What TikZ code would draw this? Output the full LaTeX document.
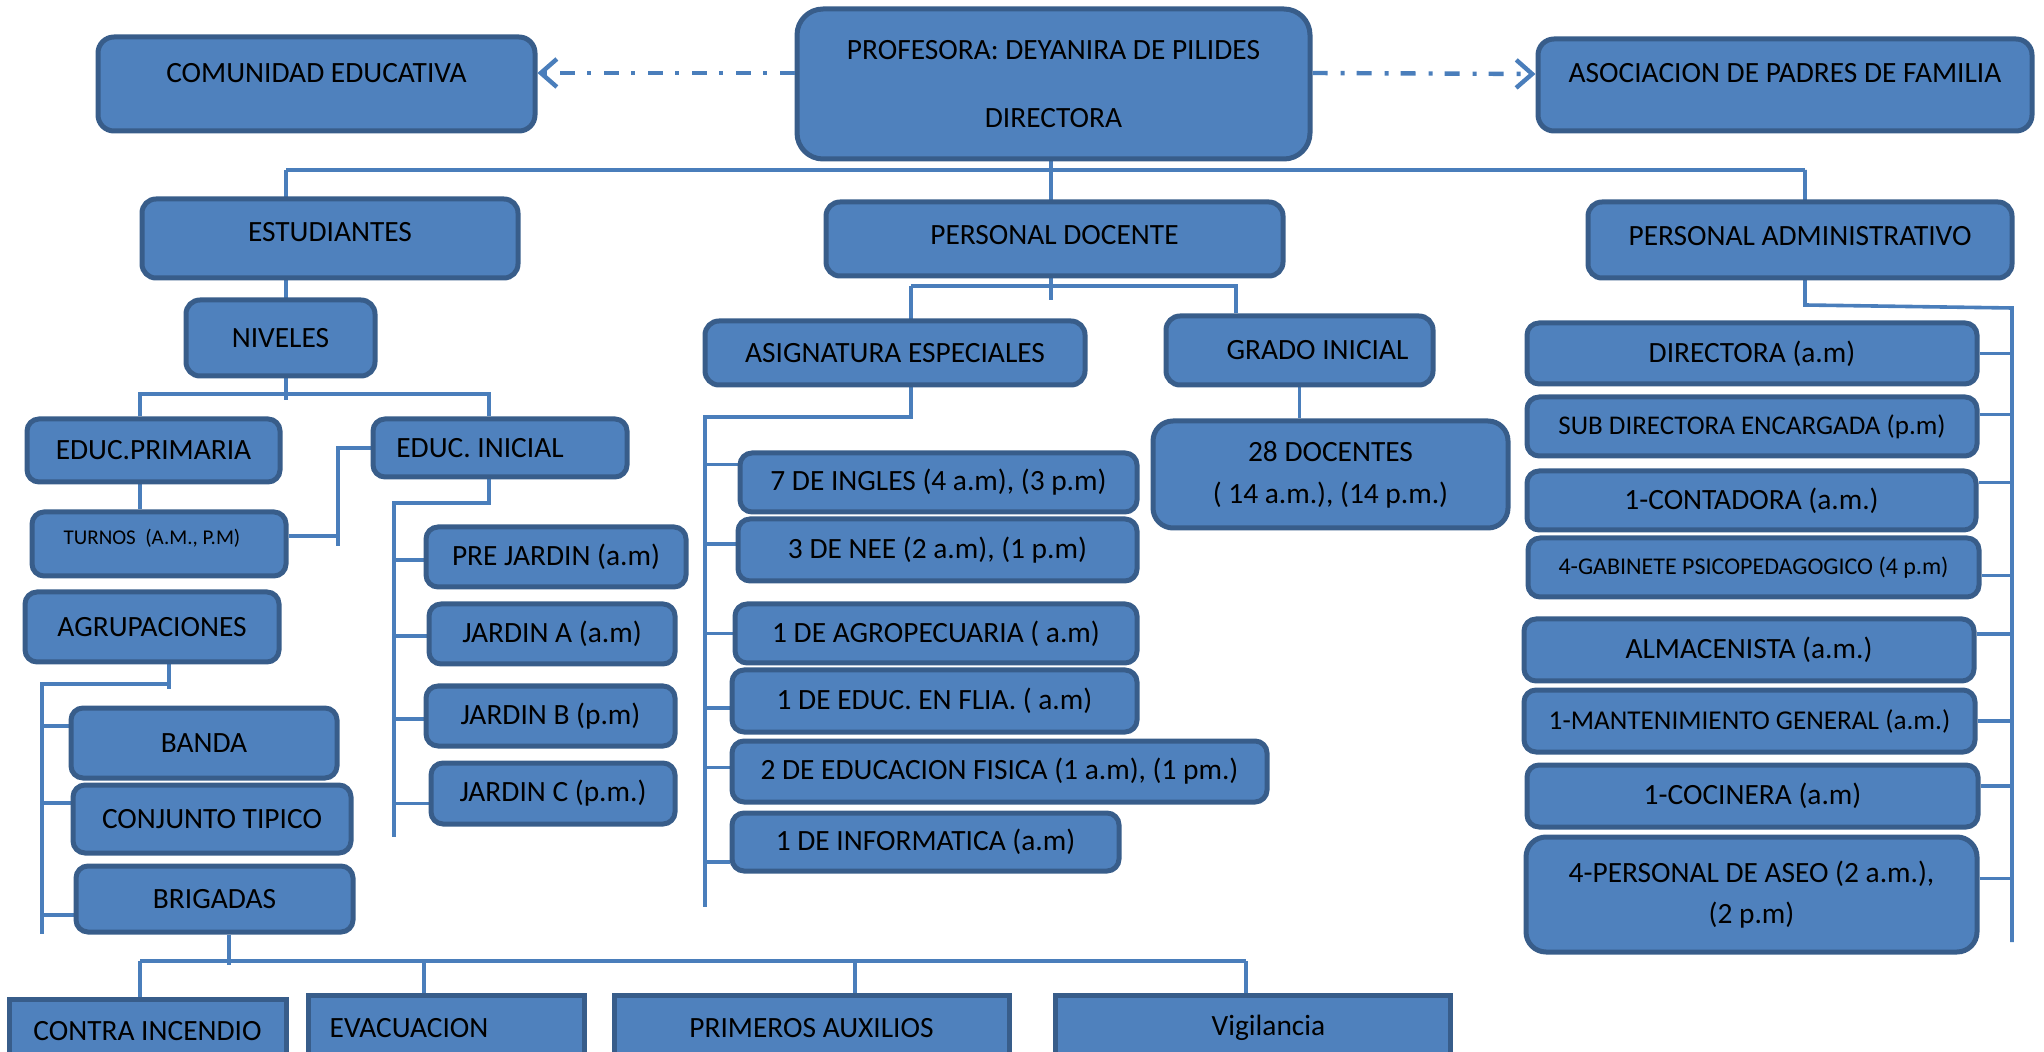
\documentclass[tikz,border=0pt]{standalone}
\usepackage{fontspec}
\setmainfont{Carlito}
\usetikzlibrary{arrows.meta}
\pgfdeclarelayer{background}
\pgfsetlayers{background,main}
\definecolor{relleno}{HTML}{4F81BD}
\definecolor{borde}{HTML}{385D8A}
\definecolor{linea}{HTML}{4A7EBB}
\tikzset{
  caja/.style={draw=borde, fill=relleno, line width=2.5pt, rounded corners=6pt,
    align=center, font=\fontsize{14.7}{17.6}\selectfont},
  cuadro/.style={caja, rounded corners=0pt},
  conector/.style={draw=linea, line width=1.8pt},
  flecha/.style={draw=linea, line width=2.2pt, dash pattern=on 7.5pt off 6.5pt on 2pt off 6pt,
    -{Straight Barb[length=8pt,width=14pt]}}
}
\begin{document}
\begin{tikzpicture}[x=0.5pt,y=-0.5pt]
  \clip (0,0) rectangle (2044,1052);
  % cabeza
  \node[caja, rounded corners=13pt, minimum width=256.5pt, minimum height=75pt] (directora) at (1053.5,84)
    {PROFESORA: DEYANIRA DE PILIDES\\[16.4pt]DIRECTORA};
  \node[caja, rounded corners=8pt, minimum width=218.5pt, minimum height=47pt] (comunidad) at (316.5,84)
    {\raisebox{11pt}{COMUNIDAD EDUCATIVA}};
  \node[caja, rounded corners=8pt, minimum width=247pt, minimum height=46pt] (asociacion) at (1785,85)
    {\raisebox{12pt}{ASOCIACION DE PADRES DE FAMILIA}};
  \draw[flecha] ([yshift=5.5pt]directora.west) -- ([yshift=5.5pt]comunidad.east);
  \draw[flecha] ([yshift=5.5pt]directora.east) -- ([yshift=5.5pt]asociacion.west);
  % segundo nivel
  \node[caja, rounded corners=7pt, minimum width=188pt, minimum height=39.5pt] (estudiantes) at (330,238.5)
    {\raisebox{6.5pt}{ESTUDIANTES}};
  \node[caja, rounded corners=7pt, minimum width=228.5pt, minimum height=37pt] (docente) at (1054.5,239)
    {\raisebox{4pt}{PERSONAL DOCENTE}};
  \node[caja, rounded corners=7pt, minimum width=212pt, minimum height=38pt] (admin) at (1800,240)
    {\raisebox{4pt}{PERSONAL ADMINISTRATIVO}};
  % estudiantes
  \node[caja, rounded corners=7pt, minimum width=94.5pt, minimum height=38pt] (niveles) at (280.5,338) {NIVELES};
  \node[caja, minimum width=126.5pt, minimum height=31.5pt] (primaria) at (153.5,450.5) {EDUC.PRIMARIA};
  \node[caja, minimum width=127pt, minimum height=29pt] (inicial) at (500,448) {EDUC. INICIAL\hspace*{20pt}};
  \node[caja, minimum width=127pt, minimum height=32pt, font=\fontsize{10.5}{12.6}\selectfont] (turnos) at (159,544)
    {\raisebox{7pt}{TURNOS~~(A.M., P.M)}\hspace*{7pt}};
  \node[caja, minimum width=127pt, minimum height=35pt] (agrupaciones) at (152,627) {AGRUPACIONES};
  \node[caja, minimum width=133pt, minimum height=35pt] (banda) at (204,743) {BANDA};
  \node[caja, minimum width=139pt, minimum height=34pt] (conjunto) at (212,819) {CONJUNTO TIPICO};
  \node[caja, minimum width=138.5pt, minimum height=33pt] (brigadas) at (214.5,899) {BRIGADAS};
  \node[caja, minimum width=130pt, minimum height=30pt] (prejardin) at (556,557) {PRE JARDIN (a.m)};
  \node[caja, minimum width=123pt, minimum height=30pt] (jardina) at (552,634) {JARDIN A (a.m)};
  \node[caja, minimum width=124.5pt, minimum height=30pt] (jardinb) at (550.5,716) {JARDIN B (p.m)};
  \node[caja, minimum width=122pt, minimum height=30.5pt] (jardinc) at (553,793.5) {JARDIN C (p.m.)};
  % brigadas
  \node[cuadro, minimum width=138.5pt, minimum height=32pt] (contra) at (147.5,1031) {CONTRA INCENDIO};
  \node[cuadro, minimum width=138pt, minimum height=33pt] (evacuacion) at (446,1028) {EVACUACION\hspace*{37pt}};
  \node[cuadro, minimum width=197.5pt, minimum height=33pt] (primeros) at (811.5,1028) {PRIMEROS AUXILIOS};
  \node[cuadro, minimum width=197.5pt, minimum height=33pt] (vigilancia) at (1252.5,1028) {\hspace*{16pt}Vigilancia};
  % docentes
  \node[caja, rounded corners=7pt, minimum width=190pt, minimum height=32pt] (asignatura) at (895,353) {ASIGNATURA ESPECIALES};
  \node[caja, rounded corners=7pt, minimum width=133.5pt, minimum height=34.5pt] (grado) at (1299.5,350.5) {\hspace*{18pt}GRADO INICIAL};
  \node[caja, rounded corners=10pt, minimum width=177.5pt, minimum height=53.5pt] (docentes) at (1330.5,474.5)
    {28 DOCENTES\\[3.4pt]( 14 a.m.), (14 p.m.)};
  \node[caja, minimum width=198.5pt, minimum height=29.5pt] (ingles) at (938.5,482.5) {7 DE INGLES (4 a.m), (3 p.m)};
  \node[caja, minimum width=199.5pt, minimum height=31pt] (nee) at (937.5,550) {3 DE NEE (2 a.m), (1 p.m)};
  \node[caja, minimum width=201pt, minimum height=29.5pt] (agro) at (936,633.5) {1 DE AGROPECUARIA ( a.m)};
  \node[caja, minimum width=202.5pt, minimum height=31pt] (flia) at (934.5,701) {1 DE EDUC. EN FLIA. ( a.m)};
  \node[caja, minimum width=267.5pt, minimum height=30.5pt] (fisica) at (999.5,771.5) {2 DE EDUCACION FISICA (1 a.m), (1 pm.)};
  \node[caja, minimum width=193.5pt, minimum height=29pt] (informatica) at (925.5,842) {1 DE INFORMATICA (a.m)};
  % administrativo
  \node[caja, minimum width=225pt, minimum height=30.5pt] (dirAM) at (1752,353.5) {DIRECTORA (a.m)};
  \node[caja, minimum width=225pt, minimum height=29.5pt, font=\fontsize{13.5}{16.2}\selectfont] (sub) at (1752,426.5)
    {SUB DIRECTORA ENCARGADA (p.m)};
  \node[caja, minimum width=224.5pt, minimum height=29.5pt] (conta) at (1751.5,500.5) {1-CONTADORA (a.m.)};
  \node[caja, minimum width=225.5pt, minimum height=29.5pt, font=\fontsize{12}{14.4}\selectfont] (gabinete) at (1753.5,567.5)
    {4-GABINETE PSICOPEDAGOGICO (4 p.m)};
  \node[caja, minimum width=225pt, minimum height=31pt] (alma) at (1749,650) {ALMACENISTA (a.m.)};
  \node[caja, minimum width=225.5pt, minimum height=31pt, font=\fontsize{13.6}{16.3}\selectfont] (mant) at (1749.5,721)
    {1-MANTENIMIENTO GENERAL (a.m.)};
  \node[caja, minimum width=225.5pt, minimum height=31pt] (coci) at (1752.5,796) {1-COCINERA (a.m)};
  \node[caja, rounded corners=10pt, minimum width=225.5pt, minimum height=57.5pt] (aseo) at (1751.5,894.5)
    {4-PERSONAL DE ASEO (2 a.m.),\\[3pt](2 p.m)};
  % conectores
  \begin{pgfonlayer}{background}
    \coordinate (t1) at (286,170);
    \coordinate (t2) at (1805,170);
    \coordinate (t3) at (1051,300);
    \coordinate (n0) at (286,400);
    \coordinate (n1) at (140,394);
    \coordinate (n2) at (489,394);
    \coordinate (p1) at (338,536);
    \coordinate (i1) at (489,503);
    \coordinate (i2) at (394,503);
    \coordinate (i3) at (394,837);
    \coordinate (a1) at (169,684);
    \coordinate (a2) at (42,684);
    \coordinate (a3) at (42,934);
    \coordinate (r1) at (229,961);
    \coordinate (r2) at (140,961);
    \coordinate (r3) at (1246,961);
    \coordinate (b1) at (911,286);
    \coordinate (b2) at (1236,286);
    \coordinate (s1) at (911,417);
    \coordinate (s2) at (705,417);
    \coordinate (s3) at (705,907);
    \coordinate (d1) at (1805,305);
    \coordinate (d2) at (2012,308);
    \coordinate (d3) at (2012,942);
    \draw[conector] (t1) -- (t2);
    \draw[conector] (directora.south -| t3) -- (t3);
    \draw[conector] (t1) -- (n0);
    \draw[conector] (t2) -- (d1) -- (d2) -- (d3);
    \draw[conector] (primaria.north -| n1) |- (n2) -- (inicial.north -| n2);
    \draw[conector] (primaria.south -| n1) -- (turnos.north -| n1);
    \draw[conector] (turnos.east |- p1) -- (p1);
    \draw[conector] ([yshift=-5pt]p1) -- (p1 |- inicial.west) -- (inicial.west);
    \draw[conector] (inicial.south -| i1) -- (i1) -- (i2) -- (i3);
    \foreach \n/\s in {prejardin/-1.5pt, jardina/-1pt, jardinb/-1.5pt, jardinc/-5pt}
      \draw[conector] ([yshift=\s]\n.west -| i2) -- ([yshift=\s]\n.west);
    \draw[conector] (agrupaciones.south -| a1) -- ([yshift=-2.5pt]a1);
    \draw[conector] (a1) -- (a2) -- (a3);
    \foreach \n/\s in {banda/8.5pt, conjunto/8pt, brigadas/-8pt}
      \draw[conector] ([yshift=\s]\n.west -| a2) -- ([yshift=\s]\n.west);
    \draw[conector] (brigadas.south -| r1) -- ([yshift=-2pt]r1);
    \draw[conector] (r2) -- (r3);
    \foreach \n/\x in {contra/140, evacuacion/424, primeros/855, vigilancia/1246}
      \draw[conector] (r2 -| \x,0) -- (\n.north -| \x,0);
    \draw[conector] (b1) -- (b2) -- (grado.north -| b2);
    \draw[conector] (b1) -- (s1) -- (s2) -- (s3);
    \foreach \n/\s in {ingles/9pt, nee/3pt, agro/0pt, flia/-3.5pt, fisica/2pt, informatica/-10pt}
      \draw[conector] ([yshift=\s]\n.west -| s2) -- ([yshift=\s]\n.west);
    \draw[conector] (grado.south) -- (grado.south |- docentes.north);
    \foreach \n/\s in {dirAM/0pt, sub/6pt, conta/9pt, gabinete/-4pt, alma/8pt, mant/0pt, coci/5pt, aseo/8pt}
      \draw[conector] ([yshift=\s]\n.east) -- ([yshift=\s]\n.east -| d2);
  \end{pgfonlayer}
\end{tikzpicture}
\end{document}
